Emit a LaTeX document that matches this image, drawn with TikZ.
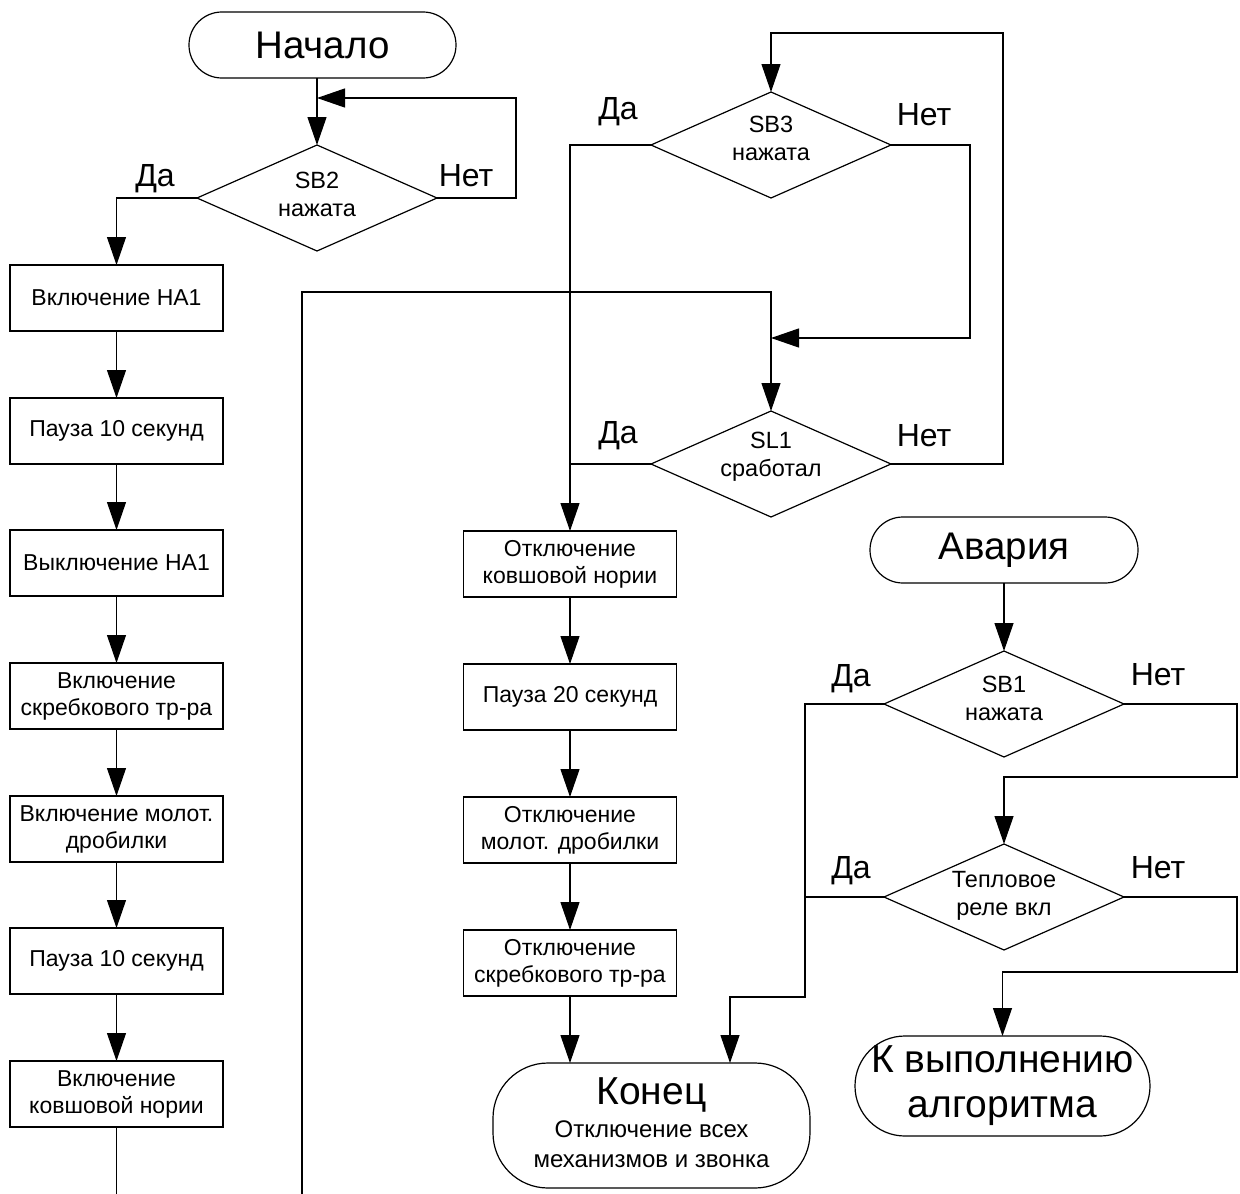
\documentclass[tikz,border=0pt]{standalone}
\usepackage{fontspec}
\setmainfont{Liberation Sans}
\usetikzlibrary{arrows.meta,shapes.geometric}
\begin{document}
\begin{tikzpicture}[x=1pt,y=-1pt,
  every node/.style={inner sep=0pt, outer sep=0pt},
  ln/.style={line width=1.2pt},
  conn/.style={ln, -{Triangle[length=28pt,width=19pt]}},
  proc/.style={draw, ln, rectangle, minimum width=213pt, minimum height=66pt, align=center, font=\fontsize{23}{27}\selectfont},
  dec/.style={draw, ln, diamond, minimum width=240pt, minimum height=106pt},
  dtext/.style={align=center, font=\fontsize{23.5}{28}\selectfont},
  term/.style={draw, ln, rectangle, rounded corners=#1},
  yn/.style={font=\fontsize{32}{38}\selectfont, anchor=base},
]
\fill[white] (0,0) rectangle (1240,1194);
\path[use as bounding box] (0,0) rectangle (1240,1194);

% ---------- left column ----------
\node[term=32.9pt, minimum width=267pt, minimum height=66pt, font=\fontsize{38.5}{44}\selectfont] (start) at (322.5,45) {Начало};
\node[dec] (sb2) at (317,198) {};
\node[dtext] (sb2t) at (317,194) {SB2\\нажата};
\node[yn] (sb2y) at (155,186) {Да};
\node[yn] (sb2n) at (466,186) {Нет};
\coordinate (j1) at (317,98);
\coordinate (c1) at (516,98);

\node[proc] (a1) at (116.5,298) {Включение HA1};
\node[proc] (a2) at (116.5,431) {Пауза 10 секунд};
\node[proc] (a3) at (116.5,563) {Выключение HA1};
\node[proc] (a4) at (116.5,696) {Включение\\скребкового тр-ра};
\node[proc] (a5) at (116.5,829) {Включение молот.\\дробилки};
\node[proc] (a6) at (116.5,961) {Пауза 10 секунд};
\node[proc] (a7) at (116.5,1094) {Включение\\ковшовой нории};
\coordinate (aend) at (116.5,1194);

\draw[conn] (start.south -| sb2.north) -- (sb2.north);
\draw[conn] (sb2.east) -| (c1) -- (j1);
\draw[conn] (sb2.west) -| (a1.north);
\draw[conn] (a1) -- (a2);
\draw[conn] (a2) -- (a3);
\draw[conn] (a3) -- (a4);
\draw[conn] (a4) -- (a5);
\draw[conn] (a5) -- (a6);
\draw[conn] (a6) -- (a7);
\draw[ln] (a7) -- (aend);

% ---------- middle column ----------
\node[dec] (sb3) at (771,145) {};
\node[dtext] (sb3t) at (771,138) {SB3\\нажата};
\node[yn] (sb3y) at (618,119) {Да};
\node[yn] (sb3n) at (924,125) {Нет};
\node[dec] (sl1) at (771,464) {};
\node[dtext] (sl1t) at (771,457) {SL1\\сработал};
\node[yn] (sl1y) at (618,443) {Да};
\node[yn] (sl1n) at (924,446) {Нет};

\node[proc] (b1) at (570,564) {Отключение\\ковшовой нории};
\node[proc] (b2) at (570,697) {Пауза 20 секунд};
\node[proc] (b3) at (570,830) {Отключение\\молот. дробилки};
\node[proc] (b4) at (570,963) {Отключение\\скребкового тр-ра};

\node[term=55pt, minimum width=317pt, minimum height=125pt] (kon) at (651.5,1125.5) {};
\node[anchor=base, font=\fontsize{39}{44}\selectfont] (kont1) at (651.5,1104) {Конец};
\node[anchor=base, font=\fontsize{24}{28}\selectfont] (kont2) at (651.5,1137) {Отключение всех};
\node[anchor=base, font=\fontsize{24}{28}\selectfont] (kont3) at (651.5,1167) {механизмов и звонка};

\coordinate (m0) at (302,1194);
\coordinate (m1) at (771,292);
\coordinate (m2) at (771,338);
\coordinate (m3) at (970,338);
\coordinate (m4) at (1003,33);
\coordinate (m5) at (771,33);

\draw[conn] (m0) |- (m1) -- (sl1.north);
\draw[conn] (sb3.east) -| (m3) -- (m2);
\draw[conn] (sl1.east) -| (m4) -- (m5) -- (sb3.north);
\draw[conn] (sb3.west) -| (b1.north);
\draw[ln] (sl1.west) -- (sl1.west -| b1.north);
\draw[conn] (b1) -- (b2);
\draw[conn] (b2) -- (b3);
\draw[conn] (b3) -- (b4);
\draw[conn] (b4) -- (b4.south |- kon.north);

% ---------- right column ----------
\node[term=32.9pt, minimum width=268pt, minimum height=66pt, font=\fontsize{38.5}{44}\selectfont] (avar) at (1004,550) {Авария};
\node[dec] (sb1) at (1004,704) {};
\node[dtext] (sb1t) at (1004,698) {SB1\\нажата};
\node[yn] (sb1y) at (851,686) {Да};
\node[yn] (sb1n) at (1158,685) {Нет};
\node[dec] (tep) at (1004,897) {};
\node[dtext] (tept) at (1004,896) {Тепловое\\реле вкл};
\node[yn] (tepy) at (851,878) {Да};
\node[yn] (tepn) at (1158,878) {Нет};
\node[term=49.9pt, minimum width=295pt, minimum height=100pt, align=center, font=\fontsize{39}{45}\selectfont] (kv) at (1002.5,1086) {К выполнению\\алгоритма};

\coordinate (r1) at (1237,777);
\coordinate (r2) at (1237,972);
\coordinate (r3) at (805,997);
\coordinate (r4) at (730,997);

\draw[conn] (avar) -- (sb1.north);
\draw[conn] (sb1.east) -| (r1) -| (tep.north);
\draw[conn] (tep.east) -| (r2) -| (kv.north);
\draw[conn] (sb1.west) -| (r3) -- (r4) -- (r4 |- kon.north);
\draw[ln] (tep.west) -- (tep.west -| r3);
\end{tikzpicture}
\end{document}
